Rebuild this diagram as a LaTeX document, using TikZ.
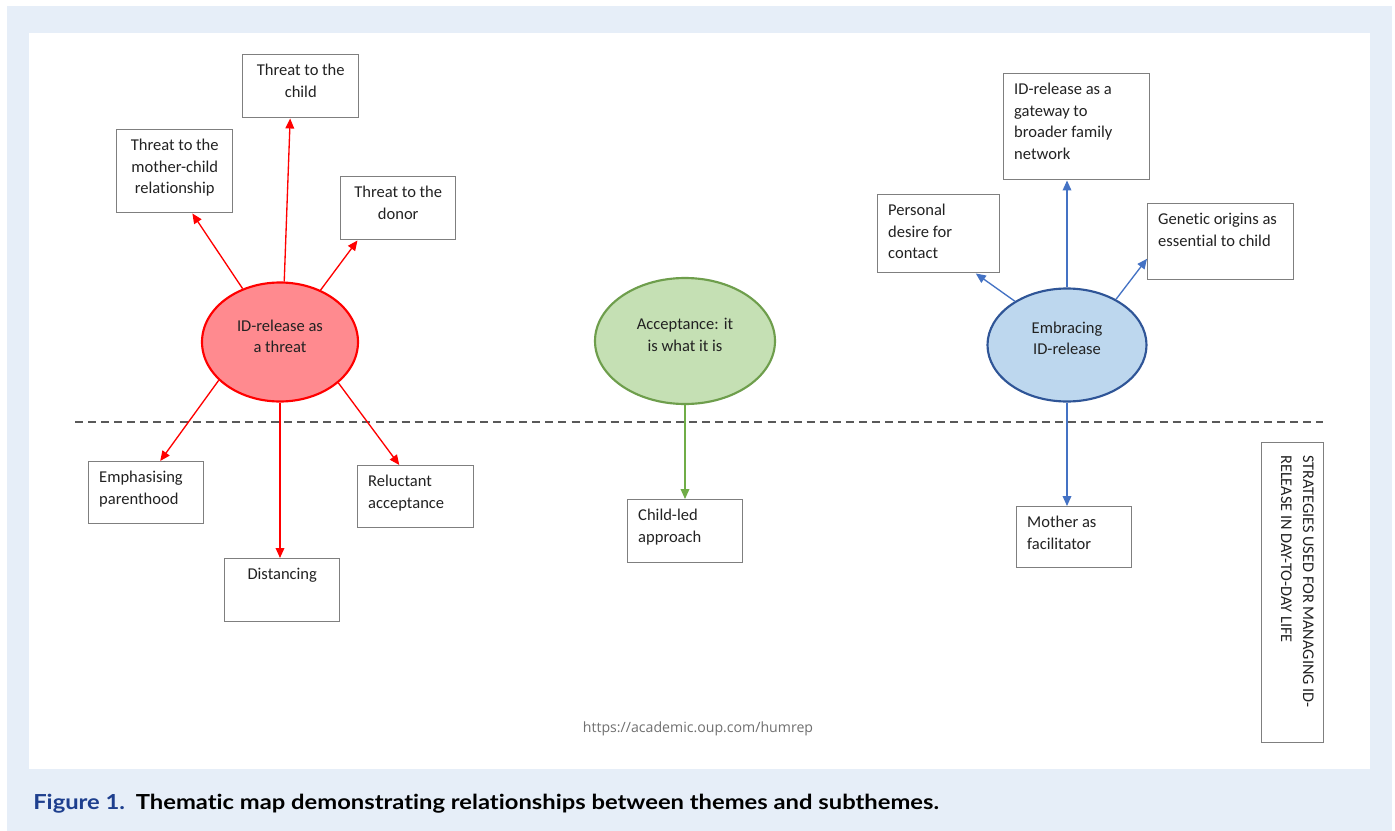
\documentclass[tikz,border=0pt]{standalone}
\usepackage{fontspec}
\setmainfont{Carlito}[Ligatures=NoCommon]
\newfontfamily\urlfont{Open Sans}
\newfontfamily\capfont{Lato}[Ligatures=NoCommon]
\usetikzlibrary{shapes.geometric,arrows.meta,calc}
\newlength\px \setlength\px{0.75pt}
\definecolor{bgblue}{HTML}{E6EEF8}
\definecolor{boxgray}{HTML}{7F7F7F}
\definecolor{txt}{HTML}{222222}
\definecolor{redfill}{HTML}{FF8A8F}
\definecolor{redline}{HTML}{FF0000}
\definecolor{greenfill}{HTML}{C5E0B4}
\definecolor{greenline}{HTML}{6E9E4C}
\definecolor{greenarr}{HTML}{70AD47}
\definecolor{bluefill}{HTML}{BDD7EE}
\definecolor{blueline}{HTML}{2F5597}
\definecolor{bluearr}{HTML}{4472C4}
\definecolor{capblue}{HTML}{1E3F8E}
\definecolor{urlgray}{HTML}{707070}
\definecolor{dashgray}{HTML}{595959}
\newcommand\cbox[3]{\parbox[t][#2\px][t]{#1\px}{\centering\fontsize{12.4pt}{16.1pt}\selectfont\rule{0pt}{21\px}#3\par}}
\newcommand\lbox[3]{\parbox[t][#2\px][t]{#1\px}{\raggedright\leftskip=10.5\px\fontsize{12.4pt}{16.1pt}\selectfont\rule{0pt}{21\px}#3\par}}
\tikzset{
  tbox/.style={draw=boxgray, line width=1.1pt, inner sep=0pt, anchor=north west, fill=white, text=txt},
  ell/.style={ellipse, inner sep=0pt, line width=1.6pt},
  etext/.style={align=center, text=txt, inner sep=0pt, font={\fontsize{12.4pt}{16pt}\selectfont}},
  arr/.style={line width=1pt, -{Triangle[length=7.5pt,width=6.5pt]}},
  rarr/.style={arr, draw=redline, color=redline},
  garr/.style={arr, draw=greenarr, color=greenarr},
  barr/.style={arr, draw=bluearr, color=bluearr},
}
\begin{document}
\begin{tikzpicture}[x=0.75pt, y=-0.75pt]
\useasboundingbox (0,0) rectangle (1395,831);
\fill[bgblue] (7,6) rectangle (1392,831);
\fill[white] (29,33) rectangle (1370,769);

% dashed separator
\coordinate (dl) at (75,422);
\coordinate (dr) at (1323,422);
\draw[dashgray, line width=1.1pt, dash pattern=on 6pt off 3.8pt] (dl) -- (dr);

% ellipses
\node[ell, draw=redline, fill=redfill, minimum width=156\px, minimum height=119\px] (T) at (280,342) {};
\node[etext] (Tt) at (280,336) {ID-release as\\a threat};
\node[ell, draw=greenline, fill=greenfill, minimum width=180\px, minimum height=126\px] (G) at (685,341) {};
\node[etext] (Gt) at (685,335) {Acceptance: it\\is what it is};
\node[ell, draw=blueline, fill=bluefill, minimum width=159\px, minimum height=113\px] (B) at (1067,345) {};
\node[etext] (Bt) at (1067,338) {Embracing\\ID-release};

% red subthemes
\node[tbox] (ch) at (242,54) {\cbox{116}{63}{Threat to the\\child}};
\node[tbox] (mc) at (116,129) {\cbox{116}{83}{Threat to the\\mother-child\\relationship}};
\node[tbox] (dn) at (340,176) {\cbox{115}{63}{Threat to the\\donor}};
\node[tbox] (em) at (88,461) {\lbox{115}{62}{Emphasising\\parenthood}};
\node[tbox] (di) at (224,558) {\cbox{115}{63}{Distancing}};
\node[tbox] (re) at (357,465) {\lbox{116}{62}{Reluctant\\acceptance}};

% green subtheme
\node[tbox] (cl) at (627,499) {\lbox{115}{63}{Child-led\\approach}};

% blue subthemes
\node[tbox] (gw) at (1003,73) {\lbox{146}{106}{ID-release as a\\gateway to\\broader family\\network}};
\node[tbox] (pd) at (877,194) {\lbox{122}{78}{Personal\\desire for\\contact}};
\node[tbox] (go) at (1147,203) {\lbox{146}{76}{Genetic origins as\\essential to child}};
\node[tbox] (mo) at (1016,506) {\lbox{115}{61}{Mother as\\facilitator}};

% vertical label
\node[draw=boxgray, line width=1.1pt, anchor=north west, minimum width=62\px, minimum height=300\px, inner sep=0pt] (vb) at (1261,442) {};
\node[rotate=-90, anchor=north west, align=left, inner sep=0pt, text=txt,
      font={\fontsize{12.2pt}{16.5pt}\selectfont}] (vt) at (1314,455)
      {STRATEGIES USED FOR MANAGING ID-\\RELEASE IN DAY-TO-DAY LIFE};

% red connectors
\draw[rarr] (T.125) -- ($(mc.south west)!0.65!(mc.south east)$);
\draw[rarr] (T.86) -- ($(ch.south west)!0.41!(ch.south east)$);
\draw[rarr] (T.52) -- ($(dn.south west)!0.15!(dn.south east)$);
\draw[rarr] (T.212) -- ($(em.north west)!0.62!(em.north east)$);
\draw[rarr] (T.south) -- (T.south |- di.north);
\draw[rarr] (T.325) -- ($(re.north west)!0.36!(re.north east)$);

% green connector
\draw[garr] (G.south) -- (G.south |- cl.north);

% blue connectors
\draw[barr] (B.north) -- (B.north |- gw.south);
\draw[barr] (B.140) -- ($(pd.south west)!0.80!(pd.south east)$);
\draw[barr] (B.43) -- ($(go.north west)!0.72!(go.south west)$);
\draw[barr] (B.south) -- (B.south |- mo.north);

% url
\node[text=urlgray, inner sep=0pt, font={\urlfont\fontsize{10.6pt}{12pt}\selectfont}] (url) at (698,729) {https://academic.oup.com/humrep};

% caption
\node[anchor=base west, inner sep=0pt, text=black, font={\capfont\bfseries\fontsize{15.5pt}{18pt}\selectfont}] (cap) at (33,809)
  {\scalebox{1.15}[1]{{\color{capblue}Figure 1.}\hspace{2pt} Thematic map demonstrating relationships between themes and subthemes.}};
\end{tikzpicture}
\end{document}
